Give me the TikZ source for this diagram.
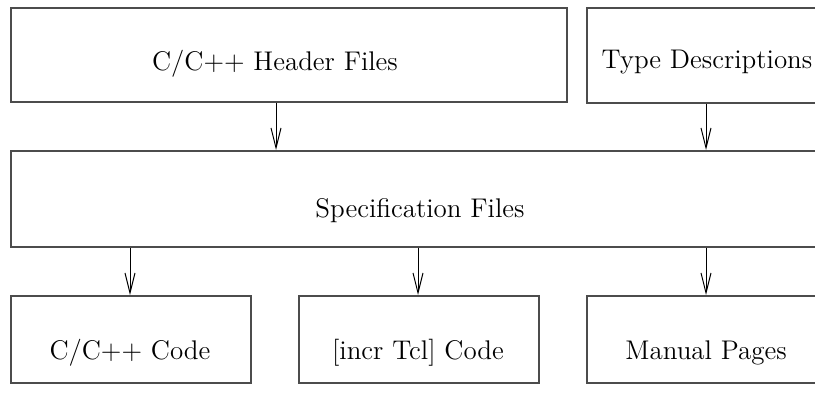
\documentclass[tikz,border=0pt]{standalone}
\usetikzlibrary{arrows.meta}
\begin{document}
\begin{tikzpicture}[x=0.5pt,y=-0.5pt,
  box/.style={draw=black!70,line width=0.8pt,rectangle,inner sep=0pt,anchor=north west},
  lbl/.style={inner sep=0pt,font=\fontsize{13.5}{16}\selectfont},
  arr/.style={draw=black,line width=0.5pt,-{Straight Barb[length=10pt,width=5pt,line width=0.5pt]}}]
  \useasboundingbox (0,0) rectangle (815,392);
  \clip (0,0) rectangle (815,392);
  % input boxes
  \node[box,minimum width=278pt,minimum height=47pt] (hdr) at (10,7) {};
  \node[box,minimum width=140pt,minimum height=47.5pt] (typ) at (586,7) {};
  \node[lbl] (thdr) at (275,64) {C/C++ Header Files};
  \node[lbl] (ttyp) at (707,62) {Type Descriptions};
  % central specification box
  \node[box,minimum width=430pt,minimum height=48pt] (spec) at (10,150) {};
  \node[lbl] (tspec) at (420,211) {Specification Files};
  % output boxes
  \node[box,minimum width=120pt,minimum height=43.5pt] (ccode) at (10,295) {};
  \node[box,minimum width=120pt,minimum height=43.5pt] (tcode) at (298,295) {};
  \node[box,minimum width=140pt,minimum height=43.5pt] (man) at (586,295) {};
  \node[lbl] (tccode) at (130,353) {C/C++ Code};
  \node[lbl] (ttcode) at (418,353) {[incr Tcl] Code};
  \node[lbl] (tman) at (706,353) {Manual Pages};
  % connectors
  \coordinate (c1) at (276,0);
  \coordinate (c2) at (706,0);
  \coordinate (c3) at (130,0);
  \coordinate (c4) at (418,0);
  \draw[arr] (hdr.south -| c1) -- (spec.north -| c1);
  \draw[arr] (typ.south -| c2) -- (spec.north -| c2);
  \draw[arr] (spec.south -| c3) -- (ccode.north -| c3);
  \draw[arr] (spec.south -| c4) -- (tcode.north -| c4);
  \draw[arr] (spec.south -| c2) -- (man.north -| c2);
\end{tikzpicture}
\end{document}
